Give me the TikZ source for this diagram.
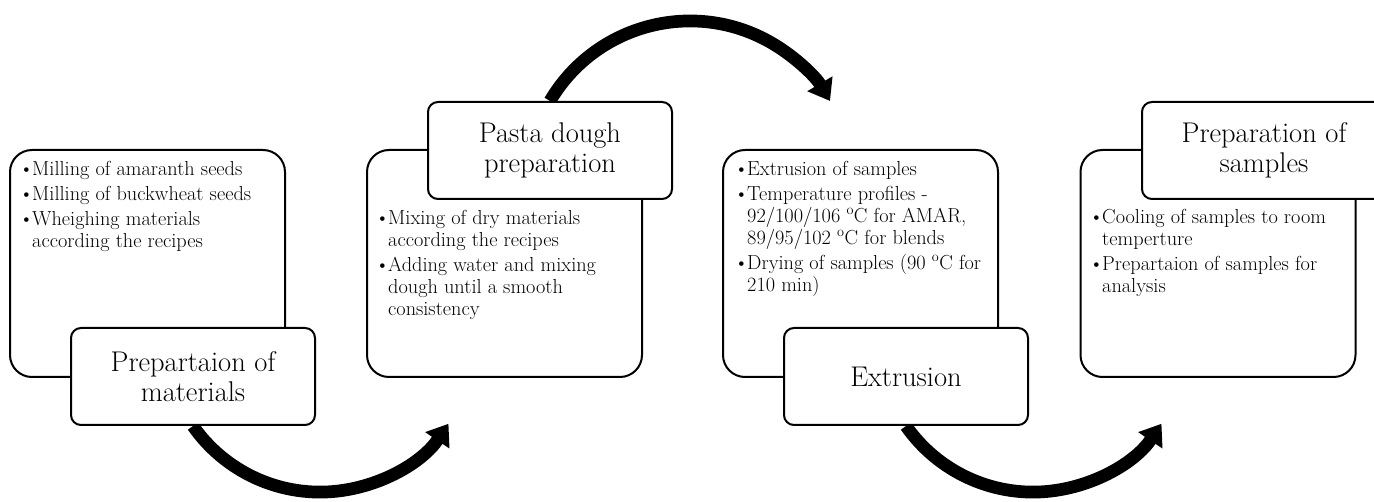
\documentclass[tikz,border=0pt]{standalone}
\usetikzlibrary{arrows.meta}
\newlength{\du}
\setlength{\du}{1pt}
\pgfdeclarelayer{background}
\pgfsetlayers{background,main}
\newcommand{\bitem}{\makebox[13\du][l]{\textbullet}}
\newcommand{\bhang}{\hspace*{13\du}}
\tikzset{
  bodybox/.style={draw=black, fill=white, line width=2\du, rounded corners=22\du,
    minimum width=275\du, minimum height=227\du, inner sep=0pt},
  titlebox/.style={draw=black, fill=white, line width=2\du, rounded corners=10\du,
    minimum width=244\du, minimum height=97\du, inner sep=0pt, align=center,
    font=\fontsize{28.5}{30}\selectfont},
  listtext/.style={anchor=north west, inner sep=0pt, align=left,
    font=\fontsize{20.3}{22}\selectfont},
  flowarrow/.style={line width=12.7\du, -{Triangle[length=20pt,width=28pt]}}
}
\begin{document}
\begin{tikzpicture}
\pgftransformxscale{1.000000}
\pgftransformyscale{-1.000000}
\useasboundingbox (0\du,0\du) rectangle (1374\du,502\du);
% step boxes
\node[bodybox] (b1) at (147.5\du,263.5\du){};
\node[bodybox] (b2) at (504.5\du,263.5\du){};
\node[bodybox] (b3) at (860.5\du,263.5\du){};
\node[bodybox] (b4) at (1218\du,263.5\du){};
% bullet lists
\node[listtext] (l1) at (19\du,161\du){\bitem Milling of amaranth seeds\\[3\du]
  \bitem Milling of buckwheat seeds\\[3\du]
  \bitem Wheighing materials\\\bhang according the recipes};
\node[listtext] (l2) at (375\du,210\du){\bitem Mixing of dry materials\\\bhang according the recipes\\[3\du]
  \bitem Adding water and mixing\\\bhang dough until a smooth\\\bhang consistency};
\node[listtext] (l3) at (734\du,161\du){\bitem Extrusion of samples\\[3\du]
  \bitem Temperature profiles -\\\bhang 92/100/106 \textsuperscript{o}C for AMAR,\\\bhang 89/95/102 \textsuperscript{o}C for blends\\[3\du]
  \bitem Drying of samples (90 \textsuperscript{o}C for\\\bhang 210 min)};
\node[listtext] (l4) at (1089\du,209\du){\bitem Cooling of samples to room\\\bhang temperture\\[3\du]
  \bitem Prepartaion of samples for\\\bhang analysis};
% step titles
\node[titlebox] (t1) at (193\du,376.5\du){Prepartaion of\\materials};
\node[titlebox] (t2) at (550\du,150.5\du){Pasta dough\\preparation};
\node[titlebox] (t3) at (906\du,376.5\du){Extrusion};
\node[titlebox] (t4) at (1264\du,150.5\du){Preparation of\\samples};
% arrows go under the titles
\begin{pgfonlayer}{background}
\draw[flowarrow] (t1.south) arc[start angle=145, end angle=34, radius=155pt];
\draw[flowarrow] (t2.north) arc[start angle=210.5, end angle=329.5, radius=162.5pt];
\draw[flowarrow] (t3.south) arc[start angle=145, end angle=34, radius=155pt];
\end{pgfonlayer}
\end{tikzpicture}
\end{document}
